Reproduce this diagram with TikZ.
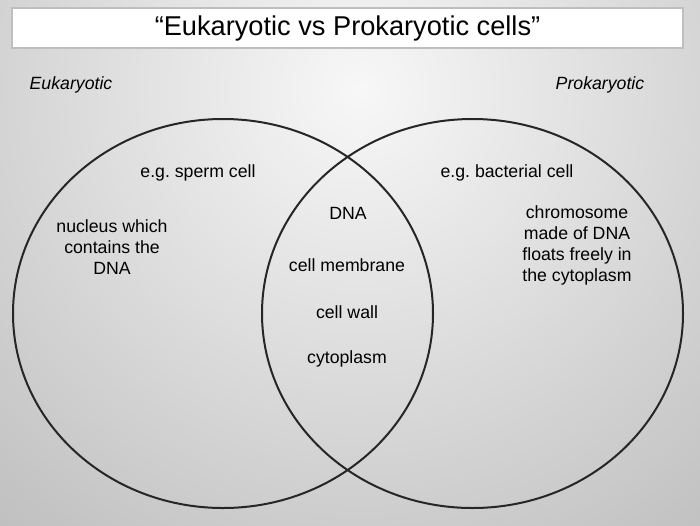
\documentclass[tikz,border=0pt]{standalone}
\usepackage{fontspec}
\setmainfont{Liberation Sans}
\frenchspacing
\usetikzlibrary{shapes.geometric}
\tikzset{every node/.style={draw=none,inner sep=0pt,align=center,font=\fontsize{8.85}{10.5}\selectfont}}
\tikzset{cell/.style={ellipse,draw=black!85,line width=1pt,minimum width=210pt,minimum height=194.5pt}}
\tikzset{kind/.style={font=\fontsize{8.85}{10.5}\selectfont\itshape}}
\tikzset{ttl/.style={rectangle,draw=gray!50,fill=white,line width=0.8pt,minimum width=335.5pt,minimum height=20pt,font=\fontsize{13.6}{16}\selectfont}}

\begin{document}
\begin{tikzpicture}[x=0.5pt,y=-0.5pt]
  \useasboundingbox (0,0) rectangle (700,525);
  \begin{scope}
    \clip (0,0) rectangle (700,525);
    \shade[inner color=gray!6,outer color=gray!80] (360,90) circle (480pt);
  \end{scope}
  \node[ttl] (title) at (347.5,28) {“Eukaryotic vs Prokaryotic cells”};
  \node[cell] (euk) at (223,313.5) {};
  \node[cell,minimum width=210.5pt] (pro) at (472.5,313.5) {};
  \node[kind] (eukname) at (71,85) {Eukaryotic};
  \node[kind] (proname) at (600,85) {Prokaryotic};
  % one side only
  \node (sperm) at (198,173) {e.g. sperm cell};
  \node (nucleus) at (112,247) {nucleus which\\contains the\\DNA};
  \node (bact) at (507,173) {e.g. bacterial cell};
  \node (chrom) at (577,245) {chromosome\\made of DNA\\floats freely in\\the cytoplasm};
  % both
  \node (dna) at (348,213) {DNA};
  \node (memb) at (347,265) {cell membrane};
  \node (wall) at (347,312) {cell wall};
  \node (cyto) at (347,359) {cytoplasm};
\end{tikzpicture}
\end{document}
